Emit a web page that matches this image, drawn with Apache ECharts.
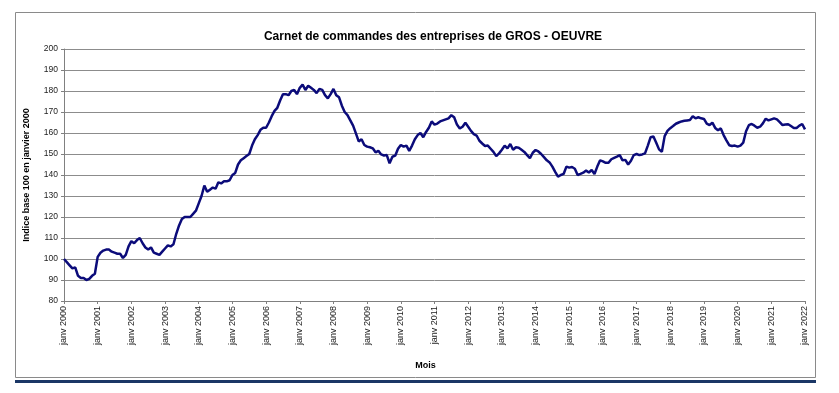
<!DOCTYPE html>
<html>
<head>
<meta charset="utf-8">
<script src="https://cdn.jsdelivr.net/npm/echarts@6/dist/echarts.min.js"></script>
<style>html,body{margin:0;padding:0;background:#fff;}#c{width:839px;height:393px;}</style>
</head>
<body>
<div id="c"></div>
<script>
var monthNames = ['janv','févr','mars','avr','mai','juin','juil','août','sept','oct','nov','déc'];
var firstYear = 2000;
var lastYear = 2022;
var yTicks = {min: 80, max: 200, interval: 10};
var values = [
 100, 98.5, 97, 95.5, 96, 92, 91, 91, 90, 90.5, 92, 93,
 101, 103, 104, 104.5, 104.5, 103.5, 103, 102.5, 102.5, 100.5, 102, 106,
 108.5, 107.5, 109, 110, 107.5, 105.5, 104.5, 105.5, 103, 102.5, 102, 103.5,
 105, 106.5, 106, 107, 112, 116, 119, 120, 120, 120, 121.5, 123,
 126.5, 130, 135, 132, 133, 134, 133.5, 136.5, 136, 137, 137, 137.5,
 140, 141, 145, 147, 148, 149, 150, 154, 157, 159, 161.5, 162.5,
 162.5, 165, 168, 170.5, 172, 175.5, 178.5, 178.5, 178, 180, 180.5, 178.5,
 181.5, 183, 180.5, 182.5, 181.5, 180.5, 179, 181, 180.5, 178, 176.5, 178.5,
 181, 178, 177, 173, 170, 168.5, 166, 163.5, 159.8, 156, 157, 154.3,
 153.5, 153.2, 152.7, 150.8, 151.5, 149.8, 149.3, 149.5, 145.6, 148.7, 149.2, 152.5,
 154.3, 153.5, 154, 151.5, 154, 157, 159, 160, 158, 160.5, 162.5, 165.5,
 164, 164.5, 165.5, 166, 166.5, 167, 168.5, 167.5, 164, 162.2, 163, 164.9,
 163, 161, 159.5, 158.8, 156.3, 155, 153.8, 154, 152.5, 151, 149, 150.3,
 152, 154, 152.7, 154.8, 152, 153.2, 153, 152, 151, 149.5, 148, 150.6,
 151.9, 151.2, 150, 148.5, 147, 146, 144, 141.5, 139.2, 140, 140.5, 144,
 143.5, 143.8, 143, 140, 140.5, 141.1, 142.1, 141.2, 142.4, 140.5, 144, 147,
 146.5, 145.8, 145.8, 147.5, 148.2, 148.8, 149.5, 147, 147.2, 145, 146.8, 149.5,
 150, 149.5, 149.8, 150.3, 154, 158, 158.3, 155.4, 152.2, 151, 158.5, 161,
 162.3, 163.3, 164.4, 165, 165.5, 165.8, 166, 166.2, 168, 167, 167.5, 167,
 166.7, 164.5, 163.8, 164.9, 162.4, 161.3, 162.2, 159, 156.5, 154.2, 153.8, 154,
 153.5, 154, 155.4, 160.8, 163.7, 164.3, 163.5, 162.5, 163, 164.6, 166.8, 166,
 166.5, 167, 166.5, 165.2, 163.8, 164, 164.2, 163.3, 162.4, 162.4, 163.5, 164.3,
 161.7
];
var categories = [];
for (var y = firstYear; y <= lastYear; y++) {
  for (var m = 0; m < 12; m++) {
    if (categories.length < values.length) categories.push(monthNames[m] + ' ' + y);
  }
}
var titleText = 'Carnet de commandes des entreprises de GROS - OEUVRE';
var yName = 'Indice base 100 en janvier 2000';
var xName = 'Mois';

var chart = echarts.init(document.getElementById('c'), null, {renderer: 'canvas'});
chart.setOption({
  backgroundColor: '#ffffff',
  animation: false,
  title: {
    text: titleText,
    left: 428, top: 26, textAlign: 'center',
    textStyle: {fontFamily: 'Liberation Sans, Arial, sans-serif', fontSize: 12, fontWeight: 'bold', color: '#000'}
  },
  graphic: [
    {type: 'rect', shape: {x: 15.5, y: 12.5, width: 800, height: 365}, style: {fill: 'none', stroke: '#8a8a8a', lineWidth: 1}, z: -1},
    {type: 'rect', shape: {x: 15, y: 380, width: 801, height: 3}, style: {fill: '#1b3766'}}
  ],
  grid: {left: 64, right: 34, top: 49, bottom: 92, containLabel: false, outerBoundsMode: 'none'},
  xAxis: {
    type: 'category',
    data: categories,
    boundaryGap: false,
    name: xName,
    nameLocation: 'middle',
    nameGap: 60,
    nameTextStyle: {fontFamily: 'Liberation Sans, Arial, sans-serif', fontSize: 9, fontWeight: 'bold', color: '#000', padding: [0, 18, 0, 0]},
    axisLine: {lineStyle: {color: '#808080', width: 1}},
    axisTick: {show: true, interval: 11, length: 3, lineStyle: {color: '#808080'}},
    axisLabel: {interval: 11, rotate: 90, margin: 5, fontFamily: 'Liberation Sans, Arial, sans-serif', fontSize: 9, color: '#222'},
    splitLine: {show: false}
  },
  yAxis: {
    type: 'value',
    min: yTicks.min, max: yTicks.max, interval: yTicks.interval,
    name: yName,
    nameLocation: 'middle',
    nameGap: 33,
    nameTextStyle: {fontFamily: 'Liberation Sans, Arial, sans-serif', fontSize: 9, fontWeight: 'bold', color: '#000'},
    axisLine: {show: true, lineStyle: {color: '#808080', width: 1}},
    axisTick: {show: true, length: 3, lineStyle: {color: '#808080'}},
    axisLabel: {margin: 6, fontFamily: 'Liberation Sans, Arial, sans-serif', fontSize: 8.5, color: '#222'},
    splitLine: {show: true, lineStyle: {color: '#8c8c8c', width: 1}}
  },
  series: [{
    type: 'line',
    data: values,
    symbol: 'none',
    lineStyle: {color: '#0b0b7a', width: 2.5},
    z: 3
  }]
});
</script>
</body>
</html>
